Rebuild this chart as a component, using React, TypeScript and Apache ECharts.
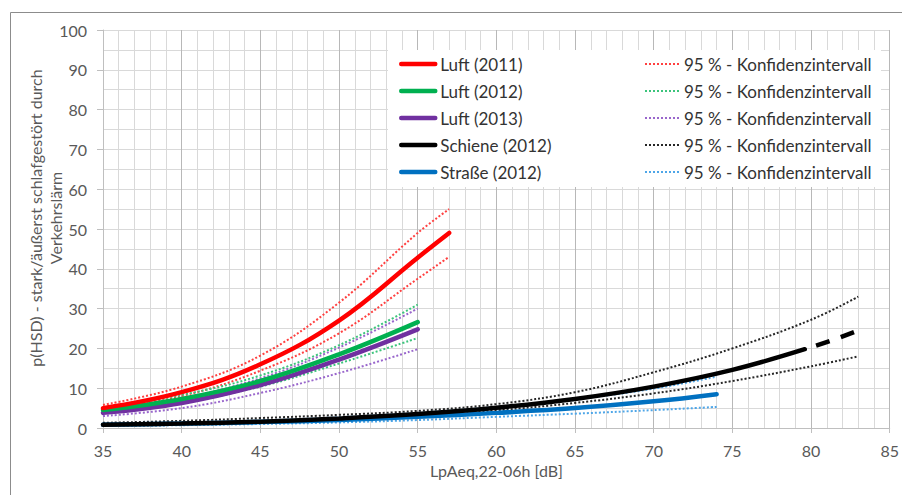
import React, { useEffect, useRef } from "react";
import * as echarts from "echarts";

// ---- data ----
const xLuft2011 = [35, 40, 45, 50, 55, 57];
const luft2011 = [5.0, 9.0, 16.0, 27.0, 42.8, 49.0];
const luft2011Upper = [5.8, 10.4, 18.2, 31.5, 49.0, 55.0];
const luft2011Lower = [4.5, 8.0, 14.4, 23.8, 37.5, 43.0];

const xLuft = [35, 40, 45, 50, 55];
const luft2012 = [4.5, 7.3, 11.8, 18.5, 26.6];
const luft2012Upper = [5.2, 8.3, 13.2, 20.8, 31.0];
const luft2012Lower = [3.9, 6.4, 10.4, 16.2, 22.6];
const luft2013 = [3.8, 6.3, 10.8, 17.2, 24.8];
const luft2013Upper = [4.6, 7.5, 12.5, 20.2, 30.0];
const luft2013Lower = [3.0, 5.0, 8.8, 13.8, 19.8];

const xSchiene = [35, 40, 45, 50, 55, 60, 65, 70, 75, 79.6];
const schiene = [0.8, 1.1, 1.6, 2.4, 3.5, 5.1, 7.3, 10.4, 14.6, 19.8];
const xSchieneExt = [79.6, 81.3, 83];
const schieneExt = [19.8, 22.0, 24.5];
const xSchieneKI = [35, 40, 45, 50, 55, 60, 65, 70, 75, 80, 83];
const schieneUpper = [1.3, 1.8, 2.5, 3.3, 4.3, 6.0, 9.0, 14.0, 20.0, 27.2, 33.0];
const schieneLower = [0.5, 0.8, 1.2, 1.9, 2.8, 4.4, 6.3, 8.7, 11.8, 15.5, 18.0];

const xStrasse = [35, 40, 45, 50, 55, 60, 65, 70, 74];
const strasse = [0.8, 1.1, 1.5, 2.0, 2.8, 3.8, 5.0, 6.7, 8.5];
const strasseUpper = [1.0, 1.4, 1.9, 2.7, 3.8, 5.3, 7.2, 9.9, 12.9];
const strasseLower = [0.5, 0.7, 1.0, 1.4, 2.0, 2.8, 3.6, 4.5, 5.3];

const mainNames = ["Luft (2011)", "Luft (2012)", "Luft (2013)", "Schiene (2012)", "Straße (2012)"];
const kiNames = ["KI Luft (2011)", "KI Luft (2012)", "KI Luft (2013)", "KI Schiene (2012)", "KI Straße (2012)"];
const kiLabel = "95 % - Konfidenzintervall";
const xAxisTitle = "LpAeq,22-06h [dB]";
const yAxisTitle = "p(HSD) - stark/äußerst schlafgestört durch\nVerkehrslärm";

const mainColors = ["#FF0000", "#00B050", "#7030A0", "#000000", "#0070C0"];
const kiColors = ["#FF4040", "#3CC47C", "#9966CC", "#262626", "#4EA6E8"];

const FONT = "Lato, 'Open Sans', sans-serif";

function pairs(xs: number[], ys: number[]) {
  return xs.map((x, i) => [x, ys[i]]);
}

function mainSeries(name: string, color: string, xs: number[], ys: number[], extra: any = {}) {
  return {
    name,
    type: "line",
    data: pairs(xs, ys),
    symbol: "none",
    showSymbol: false,
    smooth: 0.4,
    lineStyle: { color, width: 4.5, cap: "round", ...(extra.lineStyle || {}) },
    itemStyle: { color },
    z: 3,
  };
}

function kiSeries(name: string, color: string, xs: number[], ys: number[]) {
  return {
    name,
    type: "line",
    data: pairs(xs, ys),
    symbol: "none",
    showSymbol: false,
    smooth: 0.4,
    lineStyle: { color, width: 2, type: [2, 2] },
    itemStyle: { color },
    z: 2,
  };
}

export default function App() {
  const ref = useRef<HTMLDivElement>(null);
  useEffect(() => {
    if (!ref.current) return;
    const chart = echarts.init(ref.current, undefined, { renderer: "svg" });
    const legendBase = {
      orient: "vertical",
      top: 55,
      itemWidth: 34,
      itemHeight: 14,
      itemGap: 9,
      padding: 0,
      selectedMode: false,
      itemStyle: { opacity: 0 },
      lineStyle: { width: "inherit" },
      textStyle: { fontSize: 17, fontFamily: FONT, color: "#333333", lineHeight: 18 },
    };
    const option: any = {
      animation: false,
      backgroundColor: "#ffffff",
      grid: { left: 103, right: 5, top: 30, bottom: 67, containLabel: false },
      graphic: [
        {
          type: "rect",
          z: 0,
          shape: { x: 10.5, y: 12.5, width: 2000, height: 2000 },
          style: { fill: "none", stroke: "#8C8C8C", lineWidth: 1 },
        },
        {
          type: "rect",
          z: 3,
          shape: { x: 388, y: 50, width: 493, height: 137 },
          style: { fill: "#ffffff" },
        },
        {
          type: "text",
          x: 45,
          y: 218,
          rotation: Math.PI / 2,
          style: {
            text: yAxisTitle,
            fill: "#595959",
            font: `16px ${FONT}`,
            align: "center",
            verticalAlign: "middle",
            lineHeight: 20,
          },
        },
      ],
      legend: [
        { ...legendBase, left: 399, data: mainNames },
        { ...legendBase, left: 644, data: kiNames, formatter: () => kiLabel },
      ],
      xAxis: {
        type: "value",
        min: 35,
        max: 85,
        interval: 5,
        name: xAxisTitle,
        nameLocation: "middle",
        nameGap: 31,
        nameTextStyle: { fontSize: 16, fontFamily: FONT, color: "#595959" },
        axisLine: { show: true, onZero: false, lineStyle: { color: "#BFBFBF", width: 1 } },
        axisTick: { show: true, length: 5, lineStyle: { color: "#BFBFBF" } },
        axisLabel: { fontSize: 16, fontFamily: FONT, color: "#595959", margin: 14 },
        splitLine: { show: true, lineStyle: { color: "#B8B8B8", width: 1 } },
        minorTick: { show: false, splitNumber: 5 },
        minorSplitLine: { show: true, lineStyle: { color: "#D9D9D9", width: 1 } },
      },
      yAxis: {
        type: "value",
        min: 0,
        max: 100,
        interval: 10,
        axisLine: { show: true, lineStyle: { color: "#BFBFBF", width: 1 } },
        axisTick: { show: true, length: 6, lineStyle: { color: "#BFBFBF" } },
        axisLabel: { fontSize: 16, fontFamily: FONT, color: "#595959", margin: 16 },
        splitLine: { show: true, lineStyle: { color: "#D9D9D9", width: 1 } },
        minorTick: { show: false, splitNumber: 2 },
        minorSplitLine: { show: true, lineStyle: { color: "#D9D9D9", width: 1 } },
      },
      series: [
        kiSeries(kiNames[0], kiColors[0], xLuft2011, luft2011Upper),
        kiSeries(kiNames[0], kiColors[0], xLuft2011, luft2011Lower),
        kiSeries(kiNames[1], kiColors[1], xLuft, luft2012Upper),
        kiSeries(kiNames[1], kiColors[1], xLuft, luft2012Lower),
        kiSeries(kiNames[2], kiColors[2], xLuft, luft2013Upper),
        kiSeries(kiNames[2], kiColors[2], xLuft, luft2013Lower),
        kiSeries(kiNames[3], kiColors[3], xSchieneKI, schieneUpper),
        kiSeries(kiNames[3], kiColors[3], xSchieneKI, schieneLower),
        kiSeries(kiNames[4], kiColors[4], xStrasse, strasseUpper),
        kiSeries(kiNames[4], kiColors[4], xStrasse, strasseLower),
        mainSeries(mainNames[4], mainColors[4], xStrasse, strasse),
        mainSeries(mainNames[3], mainColors[3], xSchiene, schiene),
        mainSeries(mainNames[3], mainColors[3], xSchieneExt, schieneExt, {
          lineStyle: { type: [14, 12], dashOffset: 14, cap: "butt" },
        }),
        mainSeries(mainNames[2], mainColors[2], xLuft, luft2013),
        mainSeries(mainNames[1], mainColors[1], xLuft, luft2012),
        mainSeries(mainNames[0], mainColors[0], xLuft2011, luft2011),
      ],
    };
    chart.setOption(option);
    return () => chart.dispose();
  }, []);
  return (
    <div
      ref={ref}
      style={{ position: "absolute", left: 0, top: 0, width: 902, height: 495, background: "#fff" }}
    />
  );
}
